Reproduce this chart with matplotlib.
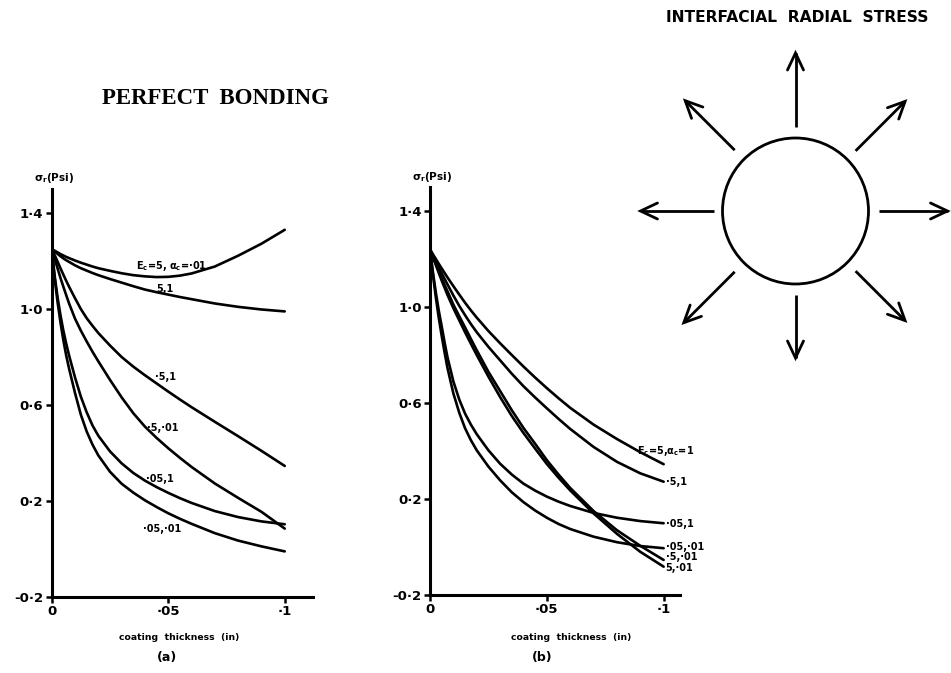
import numpy as np
import matplotlib
matplotlib.use('Agg')
import matplotlib.pyplot as plt
from matplotlib.patches import Circle

# coating thickness (in), shared grid for all curves
thick = [0, 0.00125, 0.0025, 0.00375, 0.005, 0.00625, 0.0075, 0.01, 0.0125,
         0.015, 0.0175, 0.02, 0.025, 0.03, 0.035, 0.04, 0.045, 0.05, 0.055,
         0.06, 0.07, 0.08, 0.09, 0.1]

# (a) interfacial radial stress, psi  (Ec, alpha_c)
a_5_01 = [1.25, 1.243, 1.236, 1.229, 1.223, 1.217, 1.212, 1.202, 1.193,
          1.185, 1.177, 1.17, 1.159, 1.149, 1.141, 1.136, 1.133, 1.134, 1.139,
          1.148, 1.177, 1.222, 1.272, 1.33]
a_5_1 = [1.25, 1.24, 1.23, 1.22, 1.211, 1.203, 1.196, 1.182, 1.17,
         1.16, 1.15, 1.141, 1.125, 1.11, 1.095, 1.081, 1.07, 1.06, 1.05,
         1.041, 1.023, 1.009, 0.998, 0.99]
a_p5_1 = [1.25, 1.225, 1.198, 1.17, 1.143, 1.117, 1.092, 1.045, 1.0,
          0.962, 0.93, 0.90, 0.848, 0.80, 0.76, 0.724, 0.69, 0.656, 0.623,
          0.591, 0.53, 0.47, 0.409, 0.346]
a_p5_01 = [1.25, 1.21, 1.17, 1.13, 1.093, 1.057, 1.022, 0.96, 0.91,
           0.865, 0.822, 0.782, 0.705, 0.632, 0.566, 0.51, 0.463, 0.42, 0.38,
           0.342, 0.273, 0.213, 0.155, 0.085]
a_p05_1 = [1.25, 1.14, 1.05, 0.975, 0.91, 0.855, 0.805, 0.715, 0.635,
           0.57, 0.515, 0.472, 0.407, 0.357, 0.317, 0.285, 0.258, 0.234, 0.212,
           0.192, 0.158, 0.133, 0.115, 0.103]
a_p05_01 = [1.25, 1.13, 1.03, 0.945, 0.87, 0.805, 0.75, 0.65, 0.56,
            0.49, 0.435, 0.39, 0.322, 0.272, 0.235, 0.203, 0.175, 0.149, 0.126,
            0.105, 0.066, 0.035, 0.011, -0.01]

# (b)
b_5_1 = [1.24, 1.22, 1.20, 1.18, 1.161, 1.142, 1.123, 1.087, 1.052,
         1.018, 0.986, 0.956, 0.90, 0.849, 0.80, 0.752, 0.706, 0.662, 0.62,
         0.58, 0.51, 0.45, 0.395, 0.345]
b_p5_1 = [1.24, 1.215, 1.19, 1.165, 1.141, 1.117, 1.094, 1.048, 1.005,
          0.966, 0.929, 0.895, 0.834, 0.778, 0.722, 0.67, 0.623, 0.578, 0.534,
          0.492, 0.417, 0.355, 0.307, 0.272]
b_p05_1 = [1.24, 1.145, 1.06, 0.985, 0.92, 0.852, 0.79, 0.69, 0.615,
           0.556, 0.51, 0.47, 0.403, 0.347, 0.302, 0.264, 0.235, 0.21, 0.189,
           0.171, 0.142, 0.122, 0.108, 0.099]
b_p05_01 = [1.24, 1.135, 1.04, 0.955, 0.88, 0.81, 0.745, 0.64, 0.56,
            0.495, 0.445, 0.403, 0.335, 0.278, 0.228, 0.187, 0.152, 0.122, 0.096,
            0.075, 0.043, 0.02, 0.004, -0.005]
b_p5_01 = [1.24, 1.21, 1.18, 1.15, 1.12, 1.092, 1.065, 1.01, 0.962,
           0.915, 0.867, 0.82, 0.73, 0.65, 0.57, 0.496, 0.43, 0.362, 0.302,
           0.246, 0.15, 0.07, 0.005, -0.054]
b_5_01 = [1.24, 1.207, 1.175, 1.142, 1.11, 1.08, 1.05, 0.995, 0.945,
          0.895, 0.847, 0.80, 0.71, 0.625, 0.546, 0.475, 0.41, 0.346, 0.289,
          0.236, 0.14, 0.055, -0.02, -0.082]

yticks = [1.4, 1.0, 0.6, 0.2, -0.2]
yticklabels = ['1·4', '1·0', '0·6', '0·2', '-0·2']
xticks = [0, 0.05, 0.1]
xticklabels = ['0', '·05', '·1']

# curve labels: text, x, y (data coords of each panel)
labels_a = [(r'$\mathbf{E_c}$=5, $\mathbf{\alpha_c}$=·01', 0.0516, 1.179),
            ('5,1', 0.0486, 1.083),
            ('·5,1', 0.049, 0.717),
            ('·5,·01', 0.0477, 0.504),
            ('·05,1', 0.0464, 0.292),
            ('·05,·01', 0.0473, 0.083)]
labels_b = [(r'$\mathbf{E_c}$=5,$\mathbf{\alpha_c}$=1', 0.0888, 0.40),
            ('·5,1', 0.1009, 0.271),
            ('·05,1', 0.1009, 0.096),
            ('·05,·01', 0.1009, 0.0),
            ('·5,·01', 0.1009, -0.042),
            ('5,·01', 0.1009, -0.088)]

W, H = 951, 673
fig = plt.figure(figsize=(W / 100, H / 100), dpi=100)
fig.patch.set_facecolor('white')

lw_curve = 1.9
lw_axis = 2.2


def setup(ax, xmax):
    ax.set_xlim(0, xmax)
    ax.set_ylim(-0.2, 1.5)
    for s in ['top', 'right']:
        ax.spines[s].set_visible(False)
    for s in ['left', 'bottom']:
        ax.spines[s].set_linewidth(lw_axis)
    ax.set_yticks(yticks)
    ax.set_yticklabels(yticklabels, fontsize=9.5, fontweight='bold')
    ax.set_xticks(xticks)
    ax.set_xticklabels(xticklabels, fontsize=9.5, fontweight='bold')
    ax.tick_params(direction='out', length=4, width=1.8, pad=2)
    ax.patch.set_alpha(0)


# panel (a)
ax1 = fig.add_axes([51.7 / W, 1 - 597 / H, 261 / W, 408 / H])
setup(ax1, 0.112)
for ys in [a_5_01, a_5_1, a_p5_1, a_p5_01, a_p05_1, a_p05_01]:
    ax1.plot(thick, ys, color='black', lw=lw_curve, solid_capstyle='round',
             solid_joinstyle='round')
for txt, x, y in labels_a:
    ax1.text(x, y, txt, fontsize=7, fontweight='bold', ha='center', va='center')

# panel (b)
ax2 = fig.add_axes([430 / W, 1 - 595 / H, 250 / W, 408 / H])
setup(ax2, 0.107)
for ys in [b_5_1, b_p5_1, b_p05_1, b_p05_01, b_p5_01, b_5_01]:
    ax2.plot(thick, ys, color='black', lw=lw_curve, solid_capstyle='round',
             solid_joinstyle='round')
for txt, x, y in labels_b:
    ax2.text(x, y, txt, fontsize=7, fontweight='bold', ha='left', va='center',
             clip_on=False)

# axis titles
ylab = r'$\mathbf{\sigma_r}$(Psi)'
fig.text(54 / W, 1 - 178 / H, ylab, fontsize=7.5, fontweight='bold', ha='center', va='center')
fig.text(432 / W, 1 - 177 / H, ylab, fontsize=7.5, fontweight='bold', ha='center', va='center')
fig.text(179 / W, 1 - 638 / H, 'coating  thickness  (in)', fontsize=6.7, fontweight='bold',
         ha='center', va='center')
fig.text(571 / W, 1 - 637 / H, 'coating  thickness  (in)', fontsize=6.7, fontweight='bold',
         ha='center', va='center')
fig.text(167 / W, 1 - 657 / H, '(a)', fontsize=9, fontweight='bold', ha='center', va='center')
fig.text(542 / W, 1 - 658 / H, '(b)', fontsize=9, fontweight='bold', ha='center', va='center')

fig.text(215 / W, 1 - 98 / H, 'PERFECT  BONDING', family='Liberation Serif',
         fontsize=16.5, fontweight='bold', ha='center', va='center')
fig.text(797 / W, 1 - 17 / H, 'INTERFACIAL  RADIAL  STRESS', fontsize=11.2,
         fontweight='bold', ha='center', va='center')

# stress diagram (figure pixel space)
axd = fig.add_axes([0, 0, 1, 1])
axd.set_xlim(0, W)
axd.set_ylim(H, 0)
axd.axis('off')
cx, cy, rad = 795.5, 211, 73
axd.add_patch(Circle((cx, cy), rad, fill=False, lw=2.0, color='black'))
angles = [90, 45, 0, -45, -90, -135, 180, 135]
r_in = [84, 85, 83, 85, 84, 86, 82, 86]
r_out = [158, 155, 152, 155, 147, 158, 155, 156]
head_len, head_half = 17, 8
for ang, r0, r1 in zip(angles, r_in, r_out):
    t = np.deg2rad(ang)
    ux, uy = np.cos(t), -np.sin(t)
    px, py = -uy, ux
    x0, y0 = cx + r0 * ux, cy + r0 * uy
    x1, y1 = cx + r1 * ux, cy + r1 * uy
    axd.plot([x0, x1], [y0, y1], color='black', lw=2.0, solid_capstyle='butt')
    bx, by = x1 - head_len * ux, y1 - head_len * uy
    axd.plot([bx + head_half * px, x1, bx - head_half * px],
             [by + head_half * py, y1, by - head_half * py],
             color='black', lw=2.0, solid_joinstyle='miter', solid_capstyle='round')

fig.savefig('out.png', dpi=100, facecolor='white')
